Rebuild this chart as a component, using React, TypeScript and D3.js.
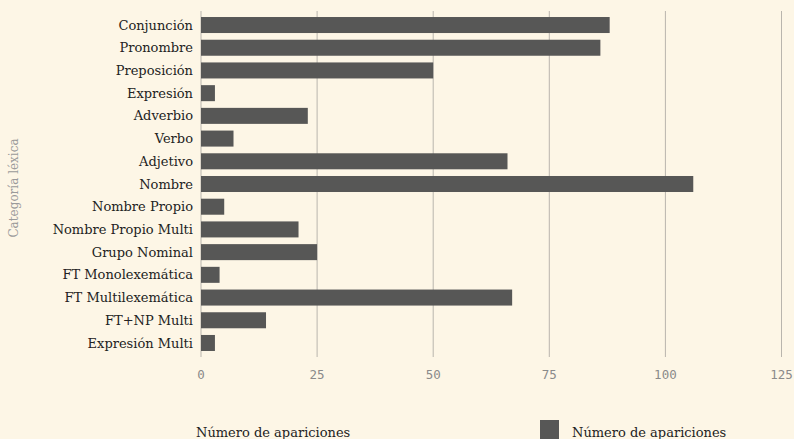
import React from "react";
import * as d3 from "d3";

const categories = [
  "Conjunción",
  "Pronombre",
  "Preposición",
  "Expresión",
  "Adverbio",
  "Verbo",
  "Adjetivo",
  "Nombre",
  "Nombre Propio",
  "Nombre Propio Multi",
  "Grupo Nominal",
  "FT Monolexemática",
  "FT Multilexemática",
  "FT+NP Multi",
  "Expresión Multi",
];
const values = [88, 86, 50, 3, 23, 7, 66, 106, 5, 21, 25, 4, 67, 14, 3];
const ticks = [0, 25, 50, 75, 100, 125];
const seriesName = "Número de apariciones";
const xTitle = "Número de apariciones";
const yTitle = "Categoría léxica";

const W = 794;
const H = 439;
const left = 201;
const right = 781.5;
const top = 11;
const bottom = 357;

export default function App() {
  const x = d3.scaleLinear().domain([0, 125]).range([left, right]);
  const y = d3
    .scaleBand<string>()
    .domain(categories)
    .range([top, bottom])
    .paddingInner(0.295)
    .paddingOuter(0.265);
  const serif = "'DejaVu Serif', 'Liberation Serif', serif";
  const mono = "'DejaVu Sans Mono', monospace";
  return (
    <svg
      width={W}
      height={H}
      style={{ position: "absolute", left: 0, top: 0 }}
    >
      <rect x={0} y={0} width={W} height={H} fill="#fdf6e6" />
      {ticks.map((t) => (
        <g key={t}>
          <line
            x1={x(t)}
            x2={x(t)}
            y1={top}
            y2={bottom}
            stroke="#b9b5ad"
            strokeWidth={1}
          />
          <text
            x={x(t)}
            y={379}
            textAnchor="middle"
            fontFamily={mono}
            fontSize={12.5}
            fill="#8a8a8a"
          >
            {t}
          </text>
        </g>
      ))}
      {categories.map((c, i) => (
        <g key={c}>
          <rect
            x={x(0)}
            y={y(c)!}
            width={x(values[i]) - x(0)}
            height={y.bandwidth()}
            fill="#575756"
          />
          <text
            x={193}
            y={y(c)! + y.bandwidth() / 2}
            dy="0.35em"
            textAnchor="end"
            fontFamily={serif}
            fontSize={13}
            fill="#222"
          >
            {c}
          </text>
        </g>
      ))}
      <text
        transform={`translate(18, 188) rotate(-90)`}
        textAnchor="middle"
        fontFamily={serif}
        fontSize={12}
        fill="#9a9a9a"
      >
        {yTitle}
      </text>
      <text
        x={196}
        y={437}
        fontFamily={serif}
        fontSize={13}
        fill="#222"
      >
        {xTitle}
      </text>
      <rect x={540} y={420} width={19} height={19} fill="#575756" />
      <text
        x={572}
        y={437}
        fontFamily={serif}
        fontSize={13}
        fill="#222"
      >
        {seriesName}
      </text>
    </svg>
  );
}
